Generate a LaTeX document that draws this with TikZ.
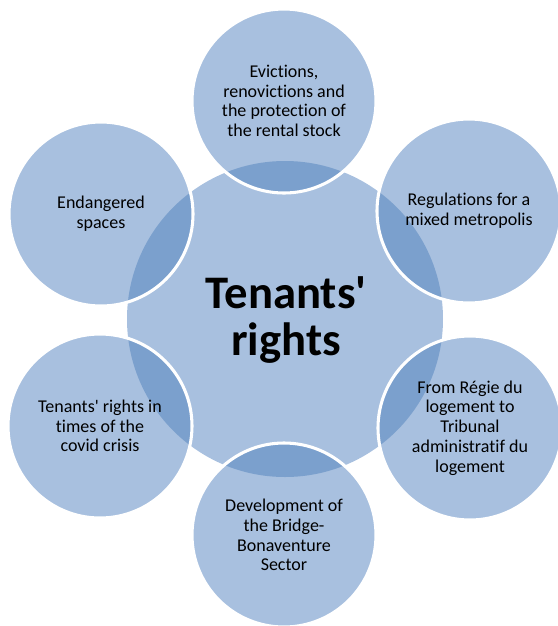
\documentclass[tikz,border=0pt]{standalone}
\usepackage{fontspec}
\setmainfont[Ligatures={NoCommon}]{Carlito}
\definecolor{lightb}{HTML}{A8C0DF}
\definecolor{darkb}{HTML}{7BA0CD}
\newcommand{\sq}{\textquotesingle}
\begin{document}
\begin{tikzpicture}[x=0.75pt,y=-0.75pt,
  hub/.style={circle, fill=lightb, minimum size=237pt, inner sep=0pt},
  sat/.style={circle, fill=lightb, minimum size=138pt, inner sep=0pt},
  sattext/.style={align=center, text=black, font=\fontsize{13.5pt}{14.8pt}\selectfont},
  hubtext/.style={align=center, text=black, font=\fontsize{35pt}{35pt}\selectfont\bfseries},
  rim/.style={draw=white, line width=2.3pt}]
\useasboundingbox (0,0) rectangle (558,626);
\clip (0,0) rectangle (558,626);
\node[hub] (c) at (285,319) {};
\node[sat] (s1) at (284,101) {};
\node[sat] (s2) at (469,211) {};
\node[sat] (s3) at (470,428) {};
\node[sat] (s4) at (284,535) {};
\node[sat] (s5) at (100,426) {};
\node[sat] (s6) at (101,214) {};
\foreach \s in {s1,s2,s3,s4,s5,s6}{
  \begin{scope}
    \clip (c.center) circle (118.5pt);
    \fill[darkb] (\s.center) circle (69pt);
  \end{scope}
  \draw[rim] (\s.center) circle (69pt);
}
\node[hubtext] (tc) at (286,320) {Tenants\sq\\rights};
\node[sattext] (t1) at (s1.center) {Evictions,\\renovictions and\\the protection of\\the rental stock};
\node[sattext] (t2) at (s2.center) {Regulations for a\\mixed metropolis};
\node[sattext] (t3) at (s3.center) {From Régie du\\logement to\\Tribunal\\administratif du\\logement};
\node[sattext] (t4) at (s4.center) {Development of\\the Bridge-\\Bonaventure\\Sector};
\node[sattext] (t5) at (s5.center) {Tenants\sq{} rights in\\times of the\\covid crisis};
\node[sattext] (t6) at (s6.center) {Endangered\\spaces};
\end{tikzpicture}
\end{document}
